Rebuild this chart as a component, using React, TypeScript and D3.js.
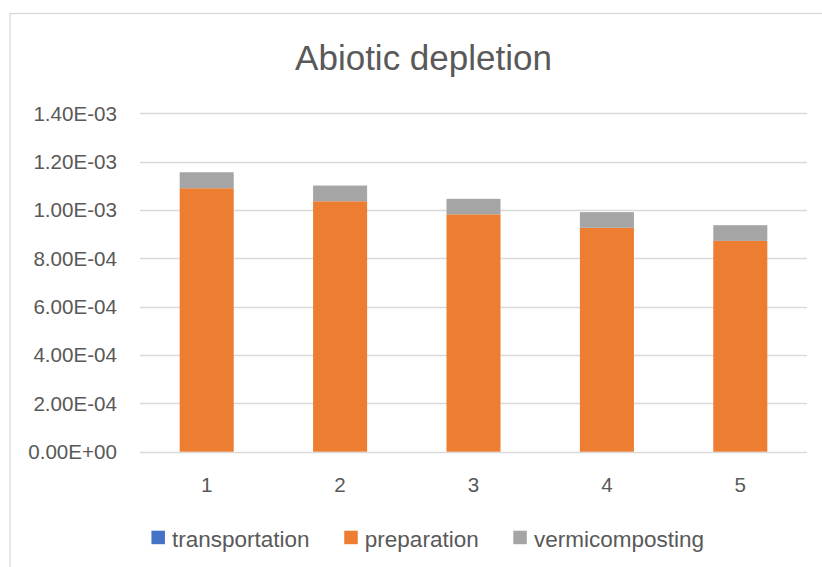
import React, { useEffect, useRef } from "react";
import * as d3 from "d3";

const categories = ["1", "2", "3", "4", "5"];
const seriesNames = ["transportation", "preparation", "vermicomposting"];
const transportation = [1.0e-7, 1.0e-7, 1.0e-7, 1.0e-7, 1.0e-7];
const preparation = [1.09e-3, 1.036e-3, 9.82e-4, 9.26e-4, 8.72e-4];
const vermicomposting = [6.6e-5, 6.5e-5, 6.4e-5, 6.5e-5, 6.5e-5];
const yTicks = [0, 2e-4, 4e-4, 6e-4, 8e-4, 1.0e-3, 1.2e-3, 1.4e-3];
const colors = ["#4472C4", "#ED7D31", "#A5A5A5"];

const W = 822;
const H = 567;
const FONT = "'Liberation Sans', Arial, sans-serif";
const TEXT = "#595959";

function fmtExp(v: number): string {
  // Spreadsheet-style scientific notation, e.g. 1.40E-03
  if (v === 0) return "0.00E+00";
  const e = Math.floor(Math.log10(Math.abs(v)) + 1e-9);
  const m = v / Math.pow(10, e);
  const sign = e < 0 ? "-" : "+";
  return `${m.toFixed(2)}E${sign}${String(Math.abs(e)).padStart(2, "0")}`;
}

export default function App() {
  const ref = useRef<SVGSVGElement>(null);

  useEffect(() => {
    const svg = d3.select(ref.current);
    svg.selectAll("*").remove();

    // chart frame
    svg
      .append("rect")
      .attr("x", 10)
      .attr("y", 13.5)
      .attr("width", W + 20)
      .attr("height", H + 20)
      .attr("fill", "#fff")
      .attr("stroke", "#D9D9D9")
      .attr("stroke-width", 1.3);

    const plot = { left: 140, right: 807, top: 113.3, bottom: 451.7 };

    const x = d3
      .scaleBand<string>()
      .domain(categories)
      .range([plot.left, plot.right])
      .paddingInner(0.595)
      .paddingOuter(0.2975);

    const y = d3
      .scaleLinear()
      .domain([0, 1.4e-3])
      .range([plot.bottom, plot.top]);

    // title
    svg
      .append("text")
      .attr("x", 423.5)
      .attr("y", 70)
      .attr("text-anchor", "middle")
      .attr("font-family", FONT)
      .attr("font-size", 35)
      .attr("fill", TEXT)
      .text("Abiotic depletion");

    // gridlines
    svg
      .append("g")
      .selectAll("line")
      .data(yTicks)
      .join("line")
      .attr("x1", plot.left)
      .attr("x2", plot.right)
      .attr("y1", (d) => Math.round(y(d)) + 0.5)
      .attr("y2", (d) => Math.round(y(d)) + 0.5)
      .attr("stroke", "#D9D9D9")
      .attr("stroke-width", 1.4);

    // y tick labels
    svg
      .append("g")
      .selectAll("text")
      .data(yTicks)
      .join("text")
      .attr("x", 117)
      .attr("y", (d) => y(d))
      .attr("dy", "0.36em")
      .attr("text-anchor", "end")
      .attr("font-family", FONT)
      .attr("font-size", 20.6)
      .attr("fill", TEXT)
      .text((d) => fmtExp(d));

    // stacked bars
    const rows = categories.map((c, i) => ({
      cat: c,
      transportation: transportation[i],
      preparation: preparation[i],
      vermicomposting: vermicomposting[i],
    }));
    const stack = d3.stack<any>().keys(seriesNames)(rows);

    svg
      .append("g")
      .selectAll("g")
      .data(stack)
      .join("g")
      .attr("fill", (_d, i) => colors[i])
      .selectAll("rect")
      .data((d) => d)
      .join("rect")
      .attr("x", (d: any) => x(d.data.cat)!)
      .attr("width", x.bandwidth())
      .attr("y", (d) => y(d[1]))
      .attr("height", (d) => Math.max(0, y(d[0]) - y(d[1])));

    // x tick labels
    svg
      .append("g")
      .selectAll("text")
      .data(categories)
      .join("text")
      .attr("x", (d) => x(d)! + x.bandwidth() / 2)
      .attr("y", 492)
      .attr("text-anchor", "middle")
      .attr("font-family", FONT)
      .attr("font-size", 20.6)
      .attr("fill", TEXT)
      .text((d) => d);

    // legend
    const legend = svg.append("g");
    const items = seriesNames.map((name, i) => {
      const g = legend.append("g");
      g.append("rect")
        .attr("width", 13.5)
        .attr("height", 13.5)
        .attr("y", 530.7)
        .attr("fill", colors[i]);
      const t = g
        .append("text")
        .attr("x", 20.6)
        .attr("y", 546.5)
        .attr("font-family", FONT)
        .attr("font-size", 22.5)
        .attr("fill", TEXT)
        .text(name);
      const w = (t.node() as SVGTextElement).getComputedTextLength();
      return { g, w: 20.6 + w };
    });
    const gap = 34.6;
    const total = items.reduce((s, it) => s + it.w, 0) + gap * (items.length - 1);
    let cx = 427.7 - total / 2;
    items.forEach((it) => {
      it.g.attr("transform", `translate(${cx},0)`);
      cx += it.w + gap;
    });
  }, []);

  return (
    <svg
      ref={ref}
      width={W}
      height={H}
      style={{ position: "fixed", left: 0, top: 0, background: "#fff" }}
    />
  );
}
